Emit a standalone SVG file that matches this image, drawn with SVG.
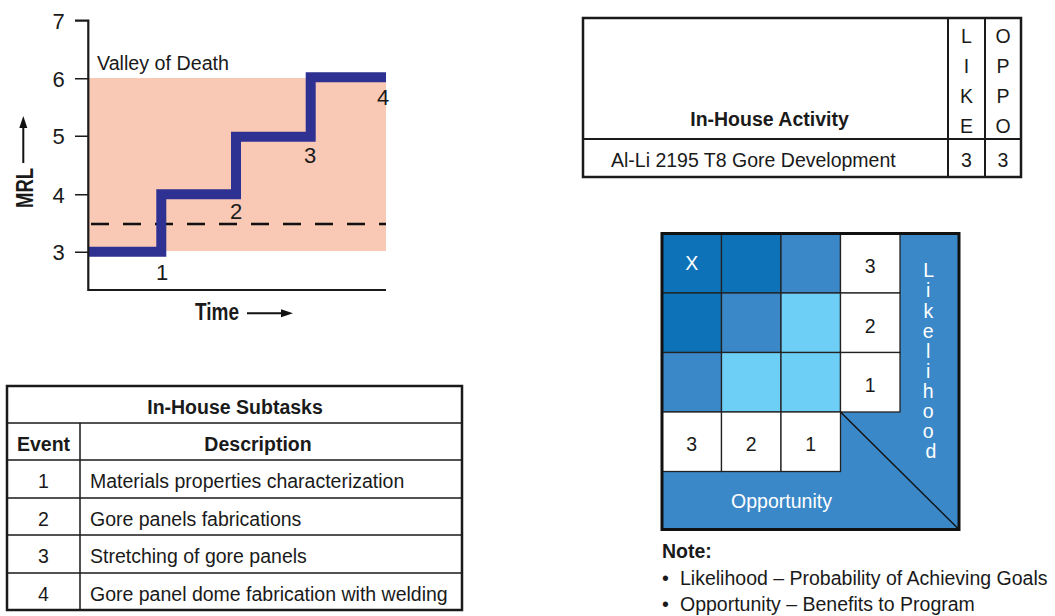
<svg xmlns="http://www.w3.org/2000/svg" width="1055" height="616" viewBox="0 0 1055 616">
<style>
text{font-family:"Liberation Sans",Arial,sans-serif;fill:#1a1a1a}
.t{font-size:19.5px}
.b{font-weight:bold}
.c{text-anchor:middle}
.ch{font-size:22px}
.w{fill:#fff}
.ln{stroke:#1a1a1a;fill:none}
.cell{stroke:#222;stroke-width:1.3}
</style>
<rect width="1055" height="616" fill="#fff"/>

<g id="chart">
  <rect x="88" y="78" width="298" height="173" fill="#f9c9b6"/>
  <line x1="91" y1="224" x2="386" y2="224" stroke="#111" stroke-width="2.5" stroke-dasharray="18 14"/>
  <path d="M88,251.7 H161.3 V194.3 H236 V136.7 H310.7 V77.3 H386" fill="none" stroke="#2e3192" stroke-width="10" stroke-linejoin="miter"/>
  <path class="ln" d="M75,20.7 H88.3 V290 H386" stroke-width="2.2"/>
  <path class="ln" d="M75,78.7 H88 M75,136.3 H88 M75,194.7 H88 M75,252.3 H88" stroke-width="1.6"/>
  <text class="ch c" x="58.5" y="28.5">7</text>
  <text class="ch c" x="58.5" y="86.5">6</text>
  <text class="ch c" x="58.5" y="144">5</text>
  <text class="ch c" x="58.5" y="202.5">4</text>
  <text class="ch c" x="58.5" y="260">3</text>
  <text x="97" y="70" font-size="20" textLength="132" lengthAdjust="spacingAndGlyphs">Valley of Death</text>
  <text class="ch c" x="162" y="280">1</text>
  <text class="ch c" x="236" y="218.5">2</text>
  <text class="ch c" x="310" y="163">3</text>
  <text class="ch c" x="383" y="105">4</text>
  <text class="b c" font-size="23" transform="translate(33,188) rotate(-90)" textLength="40" lengthAdjust="spacingAndGlyphs">MRL</text>
  <line x1="23.3" y1="163" x2="23.3" y2="126" stroke="#111" stroke-width="2"/>
  <polygon points="23.3,116 19.3,128 27.3,128" fill="#111"/>
  <text class="b" x="195" y="320" font-size="23" textLength="44" lengthAdjust="spacingAndGlyphs">Time</text>
  <line x1="247" y1="313.3" x2="283" y2="313.3" stroke="#111" stroke-width="2"/>
  <polygon points="293,313.3 281,309.3 281,317.3" fill="#111"/>
</g>

<g id="activity-table">
  <rect x="583" y="18" width="438" height="159" fill="#fff" stroke="#1a1a1a" stroke-width="2.5"/>
  <path class="ln" d="M948,18 V177 M985,18 V177 M583,139 H1021" stroke-width="2"/>
  <text class="t b c" x="769.5" y="126">In-House Activity</text>
  <text class="t c" x="966.5" y="43">L</text>
  <text class="t c" x="966.5" y="73">I</text>
  <text class="t c" x="966.5" y="103">K</text>
  <text class="t c" x="966.5" y="133">E</text>
  <text class="t c" x="1003" y="43">O</text>
  <text class="t c" x="1003" y="73">P</text>
  <text class="t c" x="1003" y="103">P</text>
  <text class="t c" x="1003" y="133">O</text>
  <text class="t" x="611" y="167">Al-Li 2195 T8 Gore Development</text>
  <text class="t c" x="966.5" y="167">3</text>
  <text class="t c" x="1003" y="167">3</text>
</g>

<g id="subtasks-table">
  <rect x="7" y="386" width="455" height="224" fill="#fff" stroke="#1a1a1a" stroke-width="2.5"/>
  <path class="ln" d="M7,423 H462 M7,460 H462 M7,498 H462 M7,535 H462 M7,573 H462 M80,423 V610" stroke-width="1.5"/>
  <text class="t b c" x="235" y="414">In-House Subtasks</text>
  <text class="t b c" x="43.5" y="451">Event</text>
  <text class="t b c" x="258" y="451">Description</text>
  <text class="t c" x="43.5" y="488">1</text>
  <text class="t c" x="43.5" y="525.5">2</text>
  <text class="t c" x="43.5" y="563">3</text>
  <text class="t c" x="43.5" y="600.5">4</text>
  <text class="t" x="90" y="488">Materials properties characterization</text>
  <text class="t" x="90" y="525.5">Gore panels fabrications</text>
  <text class="t" x="90" y="563">Stretching of gore panels</text>
  <text class="t" x="90" y="600.5">Gore panel dome fabrication with welding</text>
</g>

<g id="risk-matrix">
  <rect x="662" y="233.5" width="297" height="296" fill="#3b88c8"/>
  <rect class="cell" x="662" y="233.5" width="59.5" height="59.5" fill="#0e72b8"/>
  <rect class="cell" x="721.5" y="233.5" width="59.5" height="59.5" fill="#0e72b8"/>
  <rect class="cell" x="781" y="233.5" width="59.5" height="59.5" fill="#3b88c8"/>
  <rect class="cell" x="840.5" y="233.5" width="59.5" height="59.5" fill="#fff"/>
  <rect class="cell" x="662" y="293" width="59.5" height="59.5" fill="#0e72b8"/>
  <rect class="cell" x="721.5" y="293" width="59.5" height="59.5" fill="#3b88c8"/>
  <rect class="cell" x="781" y="293" width="59.5" height="59.5" fill="#6dcff6"/>
  <rect class="cell" x="840.5" y="293" width="59.5" height="59.5" fill="#fff"/>
  <rect class="cell" x="662" y="352.5" width="59.5" height="59.5" fill="#3b88c8"/>
  <rect class="cell" x="721.5" y="352.5" width="59.5" height="59.5" fill="#6dcff6"/>
  <rect class="cell" x="781" y="352.5" width="59.5" height="59.5" fill="#6dcff6"/>
  <rect class="cell" x="840.5" y="352.5" width="59.5" height="59.5" fill="#fff"/>
  <rect class="cell" x="662" y="412" width="59.5" height="59.5" fill="#fff"/>
  <rect class="cell" x="721.5" y="412" width="59.5" height="59.5" fill="#fff"/>
  <rect class="cell" x="781" y="412" width="59.5" height="59.5" fill="#fff"/>
  <line x1="840.5" y1="412" x2="959" y2="529.5" stroke="#111" stroke-width="1.4"/>
  <rect x="662" y="233.5" width="297" height="296" fill="none" stroke="#111" stroke-width="3"/>
  <text class="t c w" x="691.7" y="270">X</text>
  <text class="t c" x="870.2" y="273">3</text>
  <text class="t c" x="870.2" y="332.5">2</text>
  <text class="t c" x="870.2" y="392">1</text>
  <text class="t c" x="691.7" y="450.5">3</text>
  <text class="t c" x="751.2" y="450.5">2</text>
  <text class="t c" x="810.7" y="450.5">1</text>
  <text class="t c w" x="781.5" y="508">Opportunity</text>
  <text class="t c w" x="931">
    <tspan x="931" y="277.3">L</tspan>
    <tspan x="931" y="297.4">i</tspan>
    <tspan x="931" y="317.5">k</tspan>
    <tspan x="931" y="337.6">e</tspan>
    <tspan x="931" y="357.7">l</tspan>
    <tspan x="931" y="377.8">i</tspan>
    <tspan x="931" y="397.9">h</tspan>
    <tspan x="931" y="418">o</tspan>
    <tspan x="931" y="438">o</tspan>
    <tspan x="931" y="458">d</tspan>
  </text>
</g>

<g id="note">
  <text class="t b" x="662" y="558">Note:</text>
  <text class="t" x="662" y="585">•</text>
  <text class="t" x="680" y="585">Likelihood – Probability of Achieving Goals</text>
  <text class="t" x="662" y="611">•</text>
  <text class="t" x="680" y="611">Opportunity – Benefits to Program</text>
</g>
</svg>
